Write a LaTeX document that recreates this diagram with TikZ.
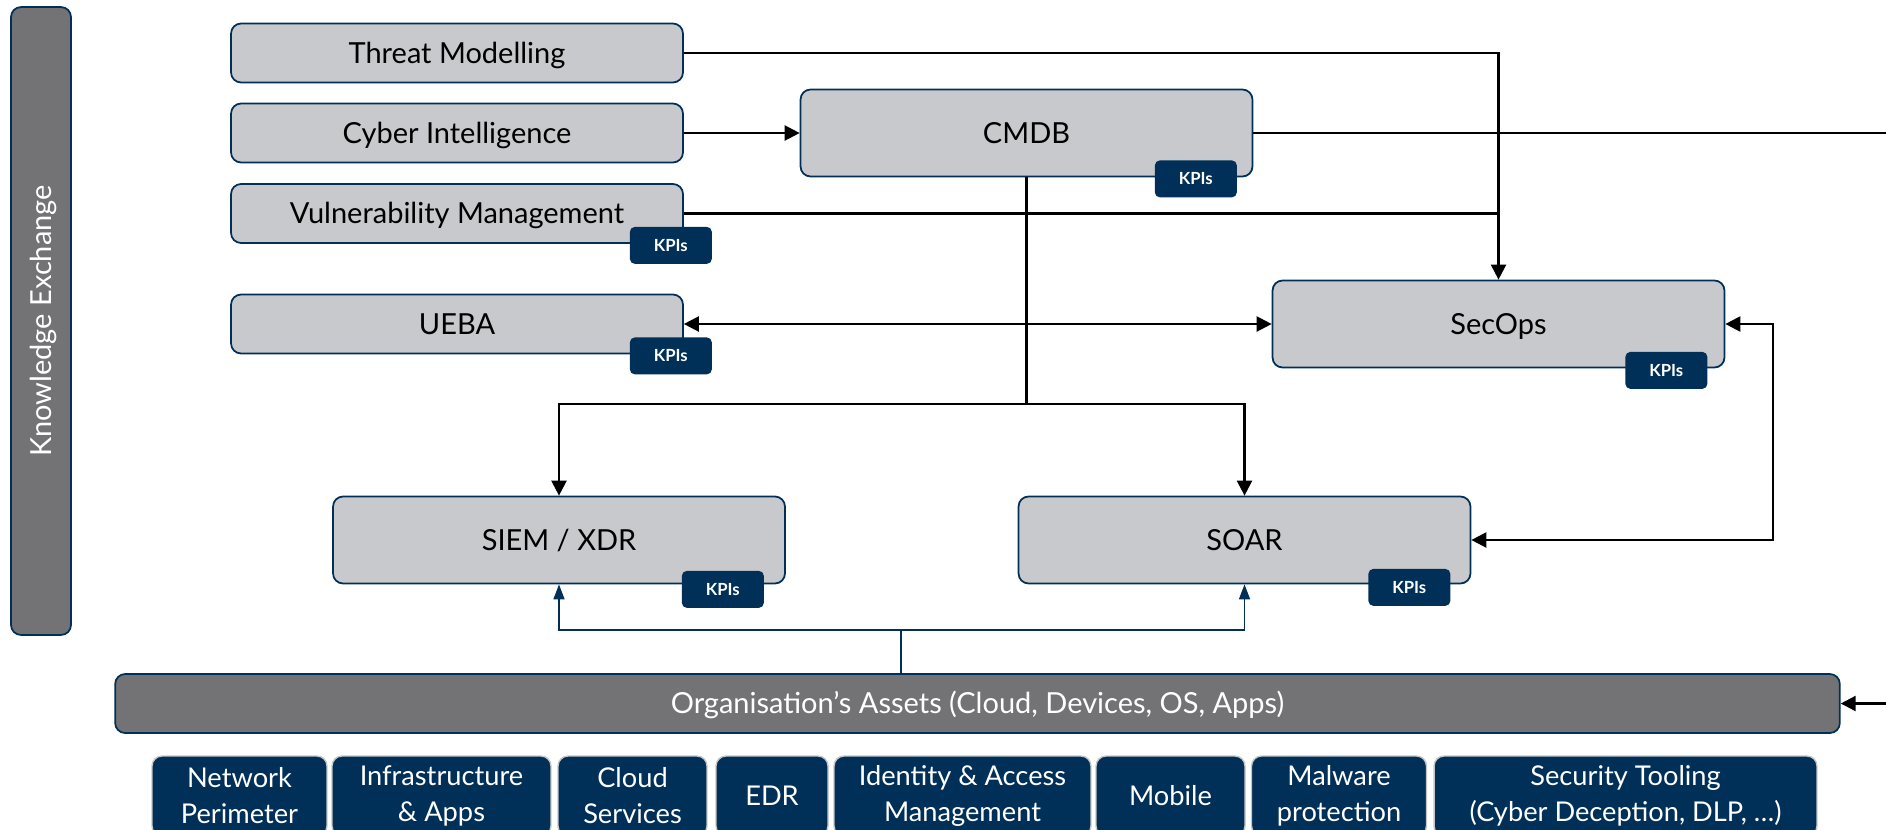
\documentclass[tikz,border=0pt]{standalone}
\usepackage{fontspec}
\setmainfont{Lato}
\usepackage{tikz}
\usetikzlibrary{positioning,arrows.meta,calc}

\definecolor{navy}{RGB}{0,48,87}
\definecolor{boxgray}{RGB}{200,201,204}
\definecolor{bargray}{RGB}{115,115,117}

\begin{document}
\begin{tikzpicture}[x=0.02cm,y=-0.02cm,>={Triangle[length=0.3cm,width=0.3cm]},
		every node/.style={font=\fontsize{16.5}{20}\selectfont},
		block/.style={draw=navy,line width=1pt,fill=boxgray,rounded corners=0.2cm,minimum width=9.04cm,minimum height=1.18cm,text height=11.9pt,text depth=0pt},
		core/.style={block,minimum height=1.74cm},
		kpi/.style={fill=navy,rounded corners=0.1cm,text=white,minimum width=1.64cm,minimum height=0.74cm,font=\bfseries\fontsize{9.5}{11}\selectfont},
		band/.style={draw=navy,line width=1pt,fill=bargray,rounded corners=0.2cm,text=white,text height=11.9pt,text depth=0pt},
		asset/.style={draw=gray!45,line width=0.8pt,fill=navy,text=white,rounded corners=0.2cm,minimum height=1.6cm,inner sep=0pt,align=center,font=\fontsize{15.5}{20.5}\selectfont},
		link/.style={line width=1.3pt},
		feed/.style={navy,line width=0.9pt,>={Triangle[length=0.3cm,width=0.22cm]}},
		]
		
		\useasboundingbox (0,0) rectangle (1886,829);
		\clip (0,0) rectangle (1886,829);
		
		% Side band
		\node[band,rotate=90,minimum width=12.56cm,minimum height=1.2cm] (know) at (41,321) {Knowledge Exchange};
		
		% Inputs
		\node[block] (threat) at (457,53) {Threat Modelling};
		\node[block] (cyber) at (457,133) {Cyber Intelligence};
		\node[block] (vuln) at (457,213.5) {Vulnerability Management};
		\node[block] (ueba) at (457,324) {UEBA};
		
		% Core platforms
		\node[core] (cmdb) at (1026.5,133) {CMDB};
		\node[core] (secops) at (1498.5,324) {SecOps};
		\node[core] (siem) at (559,540) {SIEM / XDR};
		\node[core] (soar) at (1244.5,540) {SOAR};
		
		% Assets
		\node[band,minimum width=34.5cm,minimum height=1.18cm] (assets) at (977.5,703.5)
		{Organisation’s Assets (Cloud, Devices, OS, Apps)};
		
		\node[asset,minimum width=3.5cm] (net) at (239.5,796) {Network\\Perimeter};
		\node[asset,minimum width=4.38cm] (infra) at (441.5,796) {Infrastructure\\\& Apps};
		\node[asset,minimum width=2.98cm] (cloud) at (632.5,796) {Cloud\\Services};
		\node[asset,minimum width=2.24cm] (edr) at (772,796) {EDR};
		\node[asset,minimum width=5.14cm] (iam) at (962.5,796) {Identity \& Access\\Management};
		\node[asset,minimum width=2.98cm] (mobile) at (1170.5,796) {Mobile};
		\node[asset,minimum width=3.5cm] (malware) at (1339,796) {Malware\\protection};
		\node[asset,minimum width=7.66cm] (tooling) at (1625.5,796) {Security Tooling\\(Cyber Deception, DLP, \dots)};
		
		% Junctions and loose ends
		\coordinate (split) at (1026.5,404);
		\coordinate (merge) at (901,630);
		\coordinate (outR) at (1900,133);
		\coordinate (inR) at (1900,703.5);
		
		\draw[->,link] (threat.east) -| (secops.north);
		\draw[->,link] (cyber.east) -- (cmdb.west);
		\draw[link] (cmdb.east) -- (outR);
		\draw[link] (vuln.east) -- (vuln.east -| secops.north);
		\draw[<->,link] (ueba.east) -- (secops.west);
		
		\draw[link] (cmdb.south) -- (split);
		\draw[->,link] (split) -| (siem.north);
		\draw[->,link] (split) -| (soar.north);
		\draw[<->,link] (secops.east) -- ++(48,0) |- (soar.east);
		
		\draw[feed] (merge |- assets.north) -- (merge);
		\draw[->,feed] (merge) -| (siem.south);
		\draw[->,feed] (merge) -| (soar.south);
		\draw[->,link] (inR) -- (assets.east);
		
		% KPI tags
		\node[kpi] (vulnkpi) at ([xshift=-0.26cm,yshift=-0.03cm]vuln.south east) {KPIs};
		\node[kpi] (uebakpi) at ([xshift=-0.26cm,yshift=-0.03cm]ueba.south east) {KPIs};
		\node[kpi] (cmdbkpi) at ([xshift=-1.15cm,yshift=-0.03cm]cmdb.south east) {KPIs};
		\node[kpi] (secopskpi) at ([xshift=-1.18cm,yshift=-0.04cm]secops.south east) {KPIs};
		\node[kpi] (siemkpi) at ([xshift=-1.26cm,yshift=-0.1cm]siem.south east) {KPIs};
		\node[kpi] (soarkpi) at ([xshift=-1.24cm,yshift=-0.06cm]soar.south east) {KPIs};
		
	\end{tikzpicture}
\end{document}
